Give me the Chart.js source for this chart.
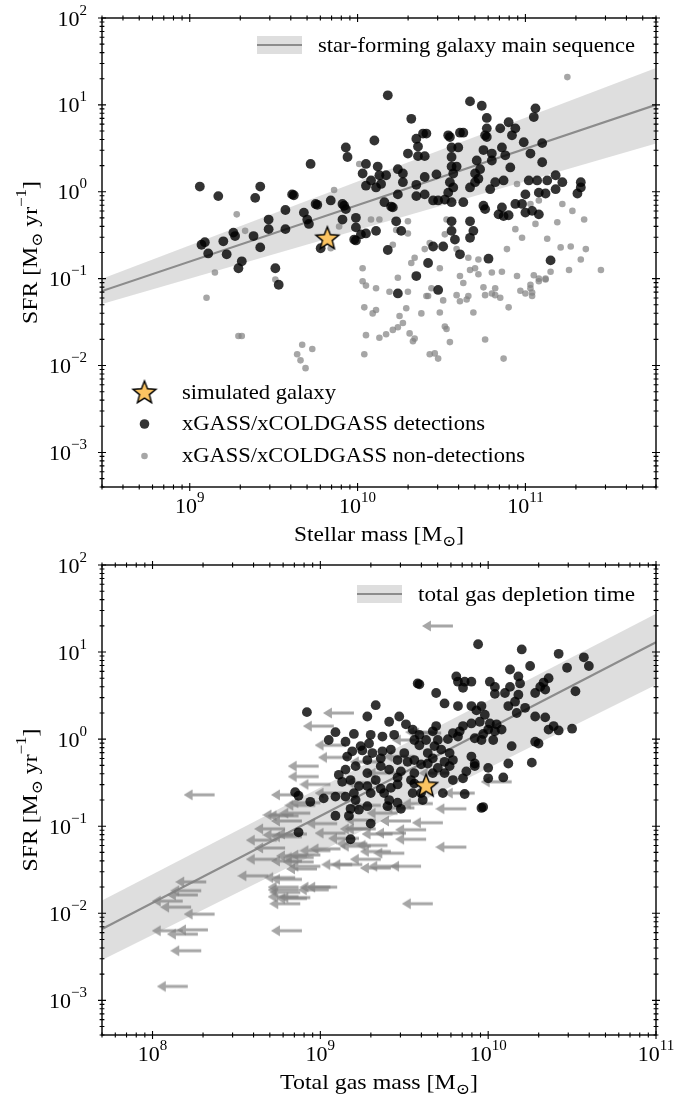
<!DOCTYPE html>
<html>
<head>
<meta charset="utf-8">
<script src="https://cdn.jsdelivr.net/npm/chart.js@4.4.1/dist/chart.umd.min.js"></script>
<style>
  html, body { margin: 0; padding: 0; background: #fff; }
  #wrap { position: relative; width: 677px; height: 1098px; }
  canvas { position: absolute; left: 0; }
</style>
</head>
<body>
<div id="wrap">
  <canvas id="massChart" width="677" height="549" style="top:0"></canvas>
  <canvas id="gasChart" width="677" height="549" style="top:549px"></canvas>
</div>
<script>
// values are log10: [log M, log SFR]
const simStellar = [9.82, -0.53];
const simGas = [9.63, -0.53];

const detStellar = [
  [9.06,0.06],[9.17,-0.05],[9.42,0.06],[9.39,-0.07],[9.72,0.32],[9.61,-0.03],[9.62,-0.04],[9.57,-0.21],
  [9.47,-0.32],[9.47,-0.43],[9.57,-0.43],[9.75,-0.14],[9.76,-0.15],[9.84,-0.10],[9.68,-0.24],[9.70,-0.32],
  [9.71,-0.37],[9.93,0.51],[9.94,0.40],[9.92,-0.16],[9.91,-0.32],[9.99,-0.30],[9.99,-0.41],[9.98,-0.55],
  [9.91,-0.14],[9.93,-0.20],[9.78,-0.65],[9.38,-0.51],[9.42,-0.64],[9.26,-0.47],[9.27,-0.51],[9.20,-0.57],
  [9.07,-0.61],[9.09,-0.58],[9.11,-0.71],[9.22,-0.72],[9.31,-0.80],[9.29,-0.88],[9.51,-0.88],[9.53,-1.07],
  [10.05,0.32],[10.10,0.59],[10.18,1.11],[10.32,0.84],[10.12,0.29],[10.03,0.21],[10.08,0.13],[10.13,0.19],
  [10.11,0.05],[10.14,0.09],[10.05,0.07],[10.17,0.19],[10.16,-0.12],[10.20,-0.17],[10.21,-0.18],[10.24,0.26],
  [10.27,0.21],[10.27,0.11],[10.24,-0.03],[10.11,-0.45],[10.05,-0.48],[10.02,-0.49],[9.99,-0.56],[10.23,-0.34],
  [10.26,-0.45],[10.18,-0.67],[10.35,0.61],[10.39,0.67],[10.41,0.67],[10.36,0.52],[10.30,0.44],[10.36,0.41],
  [10.40,0.41],[10.35,0.08],[10.40,0.17],[10.35,-0.05],[10.40,-0.03],[10.47,0.20],[10.45,-0.10],[10.48,-0.10],
  [10.54,0.65],[10.55,0.63],[10.56,0.51],[10.56,0.40],[10.56,0.29],[10.57,0.21],[10.55,0.11],[10.57,0.05],
  [10.60,0.51],[10.61,0.68],[10.63,0.68],[10.59,0.29],[10.54,-0.01],[10.56,-0.12],[10.52,-0.09],[10.63,-0.12],
  [10.67,1.04],[10.74,0.99],[10.77,0.85],[10.77,0.73],[10.76,0.65],[10.77,0.63],[10.75,0.48],[10.71,0.36],
  [10.73,0.26],[10.70,0.21],[10.72,0.15],[10.67,0.05],[10.70,0.11],[10.80,0.36],[10.80,0.44],[10.85,0.73],
  [10.90,0.80],[10.94,0.73],[10.92,0.65],[10.86,0.51],[10.88,0.42],[10.91,0.28],[10.87,0.13],[10.82,0.11],
  [10.79,0.03],[11.06,0.96],[11.05,0.86],[10.99,0.57],[11.10,0.56],[11.03,0.44],[11.10,0.34],[11.02,0.13],
  [11.07,0.13],[11.13,0.13],[11.18,0.19],[11.22,0.11],[11.18,0.03],[11.12,-0.02],[11.08,-0.01],[11.00,-0.03],
  [10.98,-0.14],[10.94,-0.14],[11.33,0.11],[11.33,0.05],[11.31,-0.02],[10.86,-0.18],[10.87,-0.28],[10.84,-0.26],
  [10.90,-0.27],[11.00,-0.24],[11.04,-0.22],[11.08,-0.26],[10.75,-0.16],[10.76,-0.20],[10.56,-0.34],[10.56,-0.45],
  [10.58,-0.55],[10.67,-0.34],[10.67,-0.53],[10.69,-0.45],[10.45,-0.63],[10.51,-0.63],[10.42,-0.82],[10.61,-0.72],
  [10.78,-0.77],[11.15,-0.79],[10.35,-0.97],[10.24,-1.17],[10.48,-1.13]
];

const nondetStellar = [
  [11.25,1.32],[9.86,0.02],[9.28,-0.26],[9.33,-0.45],[9.15,-0.93],[9.10,-1.22],[9.84,-0.65],[10.01,0.32],
  [10.08,-0.32],[10.13,-0.32],[10.23,-0.44],[10.30,-0.34],[10.21,-0.61],[10.30,-0.48],[10.40,-0.66],[10.43,-0.59],
  [10.34,-0.76],[10.32,-0.82],[10.49,-0.88],[10.53,-0.32],[10.52,-0.49],[10.59,-0.66],[10.66,-0.76],[10.70,-0.88],
  [10.72,-0.78],[10.89,-0.66],[10.94,-0.43],[10.95,0.09],[10.98,-0.53],[11.03,-0.14],[11.08,-0.10],[11.06,-0.37],
  [11.13,-0.54],[11.21,-0.64],[11.22,-0.14],[11.27,-0.63],[11.28,-0.22],[11.35,-0.32],[11.36,-0.66],[11.45,-0.90],
  [11.26,-0.90],[11.15,-0.92],[11.05,-0.96],[11.08,-1.03],[11.03,-1.11],[11.12,-1.01],[10.95,-0.97],[10.86,-0.92],
  [10.80,-0.93],[10.72,-0.95],[10.67,-0.90],[10.61,-0.97],[10.63,-1.05],[10.44,-1.11],[10.42,-1.20],[10.30,-1.15],
  [10.19,-1.15],[10.11,-1.11],[10.05,-1.08],[10.03,-0.88],[10.80,-1.17],[10.85,-1.22],[9.31,-1.66],[9.29,-1.66],
  [9.67,-1.76],[9.64,-1.87],[9.73,-1.81],[9.66,-1.94],[9.69,-2.03],[10.04,-1.33],[10.05,-1.65],[10.04,-1.87],
  [10.11,-1.36],[10.09,-1.40],[10.13,-1.68],[10.17,-1.64],[10.21,-1.59],[10.24,-1.56],[10.29,-1.34],[10.27,-1.51],
  [10.25,-1.43],[10.31,-1.63],[10.34,-1.69],[10.38,-1.40],[10.41,-1.20],[10.43,-1.87],[10.46,-1.86],[10.48,-1.92],
  [10.49,-1.39],[10.51,-1.25],[10.52,-1.55],[10.55,-1.73],[10.59,-1.19],[10.61,-1.26],[10.66,-1.20],[10.69,-1.39],
  [10.75,-1.10],[10.76,-1.70],[10.76,-1.19],[10.82,-1.11],[10.82,-1.19],[10.87,-1.92],[10.90,-1.33],[10.97,-1.14],
  [11.03,-1.07],[11.04,-1.16],[11.08,-1.00],[11.12,-1.00],[9.51,-1.01],[9.89,-0.40],[10.03,-1.03],[10.24,-0.99],
  [11.33,-0.78],[11.19,-0.35],[11.04,-1.20],[11.00,-1.17],[10.65,-1.24],[10.33,-1.72],[10.53,-1.58]
];

const detGas = [
  [9.94,1.09],[10.20,1.03],[10.42,0.98],[10.57,0.94],[10.60,0.84],[10.47,0.82],[10.25,0.84],[10.13,0.80],
  [10.52,0.55],[10.36,0.70],[10.33,0.65],[10.31,0.60],[10.28,0.53],[10.34,0.57],[10.18,0.72],[10.19,0.64],
  [10.13,0.60],[10.10,0.53],[10.04,0.52],[10.04,0.60],[10.01,0.66],[10.18,0.51],[10.16,0.43],[10.12,0.38],
  [10.17,0.30],[10.22,0.36],[10.28,0.26],[10.34,0.25],[10.39,0.15],[10.36,0.11],[10.42,0.10],[10.50,0.12],
  [10.28,-0.03],[10.30,-0.05],[10.14,-0.08],[10.26,-0.27],[10.12,-0.28],[10.09,-0.44],[9.81,0.72],[9.82,0.66],
  [9.86,0.66],[9.90,0.66],[9.85,0.59],[9.58,0.64],[9.59,0.63],[9.69,0.53],[9.74,0.41],[9.82,0.38],
  [9.90,0.38],[9.93,0.33],[9.96,0.38],[9.98,0.28],[9.95,0.20],[10.01,0.18],[10.05,0.17],[10.00,0.11],
  [10.04,0.09],[10.08,0.11],[9.97,0.06],[9.92,0.01],[10.03,-0.01],[9.96,-0.01],[9.85,0.15],[9.90,0.18],
  [9.83,0.09],[9.79,0.07],[9.82,0.03],[9.76,0.00],[9.70,-0.01],[9.69,0.15],[9.67,0.09],[9.59,0.05],
  [9.63,-0.01],[9.56,-0.01],[9.59,-0.07],[9.68,-0.08],[9.72,-0.12],[9.64,-0.16],[9.67,-0.22],[9.77,-0.16],
  [9.79,-0.24],[9.74,-0.26],[9.77,-0.31],[9.70,-0.33],[9.67,-0.39],[9.74,-0.39],[9.90,-0.20],[9.92,-0.28],
  [9.87,-0.37],[9.85,-0.45],[9.92,-0.31],[10.00,-0.33],[10.00,-0.45],[9.86,-0.63],[9.79,-0.47],[9.96,-0.79],
  [9.73,-0.62],[9.60,-0.62],[9.54,-0.47],[9.46,-0.52],[8.92,0.31],[9.28,0.26],[9.33,0.39],[9.41,0.20],
  [9.47,0.26],[9.51,0.17],[9.55,0.11],[9.44,0.05],[9.37,0.03],[9.30,0.05],[9.20,0.06],[9.09,0.08],
  [9.05,-0.01],[9.15,-0.03],[9.24,-0.08],[9.29,-0.05],[9.19,-0.14],[9.25,-0.13],[9.31,-0.16],[9.37,-0.14],
  [9.42,-0.12],[9.50,-0.16],[9.46,-0.24],[9.52,-0.26],[9.36,-0.22],[9.28,-0.24],[9.36,-0.31],[9.41,-0.35],
  [9.48,-0.37],[9.56,-0.24],[9.46,-0.44],[9.56,-0.39],[9.60,-0.29],[9.64,-0.28],[9.56,-0.51],[9.55,-0.62],
  [9.42,-0.56],[9.38,-0.62],[9.33,-0.47],[9.28,-0.39],[9.21,-0.31],[9.16,-0.20],[9.15,-0.35],[9.11,-0.41],
  [9.13,-0.49],[9.18,-0.47],[9.23,-0.54],[9.28,-0.54],[9.30,-0.62],[9.36,-0.57],[9.20,-0.62],[9.15,-0.66],
  [9.09,-0.66],[9.02,-0.68],[9.21,-0.70],[9.28,-0.77],[9.41,-0.70],[9.46,-0.73],[8.85,-0.61],[8.87,-0.65],
  [8.94,-0.72],[9.23,-0.81],[9.09,-0.88],[9.17,-0.88],[9.18,-0.80],[9.40,-0.77],[9.48,-0.80],[9.30,-0.97],
  [8.87,-1.07],[9.18,-1.15],[9.61,-0.70],[9.97,-0.78]
];

// upper limits on gas mass (arrow tail at the limit)
const nondetGas = [
  [9.79,1.30],[9.20,0.30],[9.08,0.15],[9.15,-0.07],[8.99,-0.31],[8.99,-0.43],[9.06,-0.52],[8.37,-0.64],
  [8.89,-0.64],[10.14,-0.49],[9.87,-0.80],[9.63,-1.15],[9.87,-1.24],[9.60,-1.46],[9.67,-1.89],[8.89,-2.20],
  [8.21,-2.84],[8.29,-2.43],[8.18,-2.20],[8.27,-2.24],[8.33,-2.19],[8.37,-2.01],[8.23,-1.93],[8.27,-1.79],
  [8.18,-1.86],[8.32,-1.64],[8.29,-1.74],[8.69,-1.57],[8.74,-1.38],[8.74,-1.16],[8.84,-0.87],[9.10,-1.70],
  [8.87,-1.70],[8.87,-1.81],[8.94,-1.82],[8.88,-1.89],[8.89,-1.61],[9.00,-1.46],[9.25,-1.44],[9.36,-1.38],
  [9.42,-1.29],[9.47,-1.46],[9.51,-1.08],[9.30,-1.23],[9.12,-1.26],[9.00,-1.33],[8.79,-1.03],[8.89,-1.12],
  [9.15,-1.08],[9.33,-0.93],[9.73,-0.96],[8.84,-1.10],[8.79,-1.25],[8.92,-1.34],[8.89,-1.40],[9.10,-0.97],
  [9.23,-1.14],[9.30,-1.03],[9.46,-0.85],[9.56,-0.79],[9.54,-0.94],[9.63,-1.04],[9.36,-0.76],[9.67,-0.74],
  [8.87,-0.88],[8.89,-0.94],[8.97,-0.76],[8.85,-1.59],[8.87,-1.73],[9.05,-1.73],[8.88,-1.76],[8.92,-1.83],
  [8.96,-1.41],[8.98,-1.49],[8.96,-1.36],[8.92,-1.09],[9.06,-1.28],[9.06,-1.70],[9.50,-1.31],[9.19,-1.44],
  [9.42,-1.48],[9.33,-1.03],[9.43,-1.09],[9.28,-1.20],[9.40,-1.22],[9.00,-0.73],[8.94,-0.85],[9.15,-0.62],
  [9.33,-0.50],[9.46,-0.39],[9.56,-0.20],[9.61,-0.01],[9.72,0.07],[9.36,-0.26],[9.69,0.08],[9.77,-0.39],
  [9.92,-0.62],[9.17,-0.21]
];

// main sequence and depletion-time relations (linear units)
const msX = [3e8, 6e11];
const msMid = [0.072, 10];
const msLo = [0.051, 3.6];
const msHi = [0.10, 26.6];

const deplX = [5e7, 1e11];
const deplMid = [0.0066, 13];
const deplLo = [0.0029, 4.2];
const deplHi = [0.014, 27.5];

const sfrDecades = [-3, -2, -1, 0, 1, 2];
const massDecades = [9, 10, 11];
const gasDecades = [8, 9, 10, 11];

const FONT = '"Liberation Serif", "DejaVu Serif", serif';
const DARK = 'rgba(0,0,0,0.8)';
const GREY = 'rgba(128,128,128,0.7)';
const BAND = 'rgba(160,160,160,0.35)';

const pts = arr => arr.map(([lx, ly]) => ({ x: 10 ** lx, y: 10 ** ly }));
const linePts = (xs, ys) => xs.map((x, i) => ({ x: x, y: ys[i] }));
const expo = d => d < 0 ? '\u2212' + (-d) : String(d);

function starImage() {
  const c = document.createElement('canvas');
  c.width = c.height = 28;
  const g = c.getContext('2d');
  const R = 12, r = 5.2;
  g.beginPath();
  for (let i = 0; i < 10; i++) {
    const a = -Math.PI / 2 + i * Math.PI / 5;
    const rr = i % 2 ? r : R;
    g.lineTo(14 + rr * Math.cos(a), 15 + rr * Math.sin(a));
  }
  g.closePath();
  g.fillStyle = '#fbc462';
  g.fill();
  g.lineWidth = 1.4;
  g.strokeStyle = '#000';
  g.stroke();
  return c;
}

function arrowImage(len) {
  const c = document.createElement('canvas');
  c.width = 2 * len;
  c.height = 14;
  const g = c.getContext('2d');
  g.beginPath();
  g.rect(5, 7 - 1.5, len - 5, 3);
  g.moveTo(0, 7);
  g.lineTo(9, 1.5);
  g.lineTo(9, 12.5);
  g.closePath();
  g.fillStyle = GREY;
  g.fill();
  return c;
}

const STAR = starImage();
const ARROW = arrowImage(31);

// text pieces: [text, '' | 'sup' | 'sub']
function drawParts(ctx, parts, x, y, align, fitW, big, small) {
  big = big || 21; small = small || 15;
  let w = 0;
  const widths = parts.map(([t, k]) => {
    ctx.font = (k ? small : big) + 'px ' + FONT;
    const pw = ctx.measureText(t).width;
    w += pw;
    return pw;
  });
  const s = fitW ? fitW / w : 1;
  ctx.save();
  ctx.translate(x, y);
  ctx.scale(s, 1);
  let cx = align === 'center' ? -w / 2 : align === 'right' ? -w : 0;
  ctx.textAlign = 'left';
  ctx.textBaseline = 'alphabetic';
  ctx.fillStyle = '#000';
  parts.forEach(([t, k], i) => {
    ctx.font = (k ? small : big) + 'px ' + FONT;
    const dy = k === 'sup' ? -11 : k === 'sub' ? 5 : 0;
    ctx.fillText(t, cx, dy);
    cx += widths[i];
  });
  ctx.restore();
}

function logTicks(min, max) {
  const out = [];
  for (let d = Math.floor(Math.log10(min)); d <= Math.ceil(Math.log10(max)); d++) {
    for (let m = 1; m <= 9; m++) {
      const v = m * Math.pow(10, d);
      if (v >= min * 0.999 && v <= max * 1.001) out.push({ v: v, major: m === 1 });
    }
  }
  return out;
}

const axesPlugin = {
  id: 'axesFrame',
  afterDatasetsDraw(chart, args, o) {
    const { ctx, chartArea: a } = chart;
    const sx = chart.scales.x, sy = chart.scales.y;
    ctx.save();
    ctx.strokeStyle = '#000';
    ctx.lineWidth = 1.1;
    ctx.beginPath();
    logTicks(sx.min, sx.max).forEach(t => {
      const p = sx.getPixelForValue(t.v), l = t.major ? 4 : 2.4;
      ctx.moveTo(p, a.bottom - l); ctx.lineTo(p, a.bottom + l);
      ctx.moveTo(p, a.top - l); ctx.lineTo(p, a.top + l);
    });
    logTicks(sy.min, sy.max).forEach(t => {
      const p = sy.getPixelForValue(t.v), l = t.major ? 4 : 2.4;
      ctx.moveTo(a.left - l, p); ctx.lineTo(a.left + l, p);
      ctx.moveTo(a.right - l, p); ctx.lineTo(a.right + l, p);
    });
    ctx.stroke();
    ctx.lineWidth = 1.4;
    ctx.strokeRect(a.left, a.top, a.right - a.left, a.bottom - a.top);

    o.xDecades.forEach(d => {
      const p = sx.getPixelForValue(Math.pow(10, d));
      drawParts(ctx, [['10', ''], [expo(d), 'sup']], p, a.bottom + 26, 'center', 0, 22, 15);
    });
    sfrDecades.forEach(d => {
      const p = sy.getPixelForValue(Math.pow(10, d));
      drawParts(ctx, [['10', ''], [expo(d), 'sup']], a.left - 15, p + 7.5, 'right', 0, 22, 15);
    });

    drawParts(ctx, o.xTitle, (a.left + a.right) / 2, a.bottom + 54, 'center', o.xTitleW);
    ctx.save();
    ctx.translate(37, (a.top + a.bottom) / 2);
    ctx.rotate(-Math.PI / 2);
    drawParts(ctx, [['SFR [M', ''], ['\u2299', 'sub'], [' yr', ''], ['\u22121', 'sup'], [']', '']], 0, 0, 'center', 143);
    ctx.restore();

    // band legend, top right
    const L = o.band;
    ctx.fillStyle = BAND;
    ctx.fillRect(L.x, 36, 45, 18);
    ctx.strokeStyle = '#8c8c8c';
    ctx.lineWidth = 2.2;
    ctx.beginPath(); ctx.moveTo(L.x, 45); ctx.lineTo(L.x + 45, 45); ctx.stroke();
    drawParts(ctx, [[L.label, '']], L.x + 61, 52, 'left', L.w);

    if (o.markers) {
      ctx.drawImage(STAR, 144.5 - 14, 393 - 15);
      ctx.fillStyle = DARK;
      ctx.beginPath(); ctx.arc(144.5, 424, 4.8, 0, 2 * Math.PI); ctx.fill();
      ctx.fillStyle = GREY;
      ctx.beginPath(); ctx.arc(144.5, 456, 3.3, 0, 2 * Math.PI); ctx.fill();
      drawParts(ctx, [['simulated galaxy', '']], 182, 399, 'left', 154);
      drawParts(ctx, [['xGASS/xCOLDGASS detections', '']], 182, 430, 'left', 303);
      drawParts(ctx, [['xGASS/xCOLDGASS non-detections', '']], 182, 462, 'left', 343);
    }
    ctx.restore();
  }
};

function bandSets(xs, lo, hi, mid) {
  return [
    { type: 'line', data: linePts(xs, lo), borderColor: 'transparent', borderWidth: 0, pointRadius: 0, fill: false, order: 30 },
    { type: 'line', data: linePts(xs, hi), borderColor: 'transparent', borderWidth: 0, pointRadius: 0, fill: '-1', backgroundColor: BAND, order: 29 },
    { type: 'line', data: linePts(xs, mid), borderColor: '#8c8c8c', borderWidth: 2.2, pointRadius: 0, fill: false, order: 28 }
  ];
}

function makeChart(id, datasets, xmin, xmax, pad, opts) {
  return new Chart(document.getElementById(id), {
    type: 'scatter',
    data: { datasets: datasets },
    options: {
      responsive: false,
      animation: false,
      devicePixelRatio: 1,
      events: [],
      layout: { padding: pad },
      scales: {
        x: { type: 'logarithmic', display: false, min: xmin, max: xmax },
        y: { type: 'logarithmic', display: false, min: 4e-4, max: 100 }
      },
      plugins: { legend: { display: false }, tooltip: { enabled: false }, axesFrame: opts }
    },
    plugins: [axesPlugin]
  });
}

makeChart('massChart',
  bandSets(msX, msLo, msHi, msMid).concat([
    { data: pts(nondetStellar), backgroundColor: GREY, borderWidth: 0, pointRadius: 3.3, order: 20 },
    { data: pts(detStellar), backgroundColor: DARK, borderWidth: 0, pointRadius: 4.9, order: 10 },
    { data: pts([simStellar]), pointStyle: STAR, order: 1 }
  ]),
  3e8, 6e11, { left: 102, right: 21, top: 18, bottom: 62 },
  {
    xDecades: massDecades,
    xTitle: [['Stellar mass [M', ''], ['\u2299', 'sub'], [']', '']], xTitleW: 170,
    band: { x: 257, label: 'star-forming galaxy main sequence', w: 317 },
    markers: true
  });

makeChart('gasChart',
  bandSets(deplX, deplLo, deplHi, deplMid).concat([
    { data: pts(nondetGas), pointStyle: ARROW, order: 20 },
    { data: pts(detGas), backgroundColor: DARK, borderWidth: 0, pointRadius: 4.9, order: 10 },
    { data: pts([simGas]), pointStyle: STAR, order: 1 }
  ]),
  5e7, 1e11, { left: 102, right: 21, top: 16, bottom: 63 },
  {
    xDecades: gasDecades,
    xTitle: [['Total gas mass [M', ''], ['\u2299', 'sub'], [']', '']], xTitleW: 198,
    band: { x: 357, label: 'total gas depletion time', w: 217 },
    markers: false
  });
</script>
</body>
</html>
